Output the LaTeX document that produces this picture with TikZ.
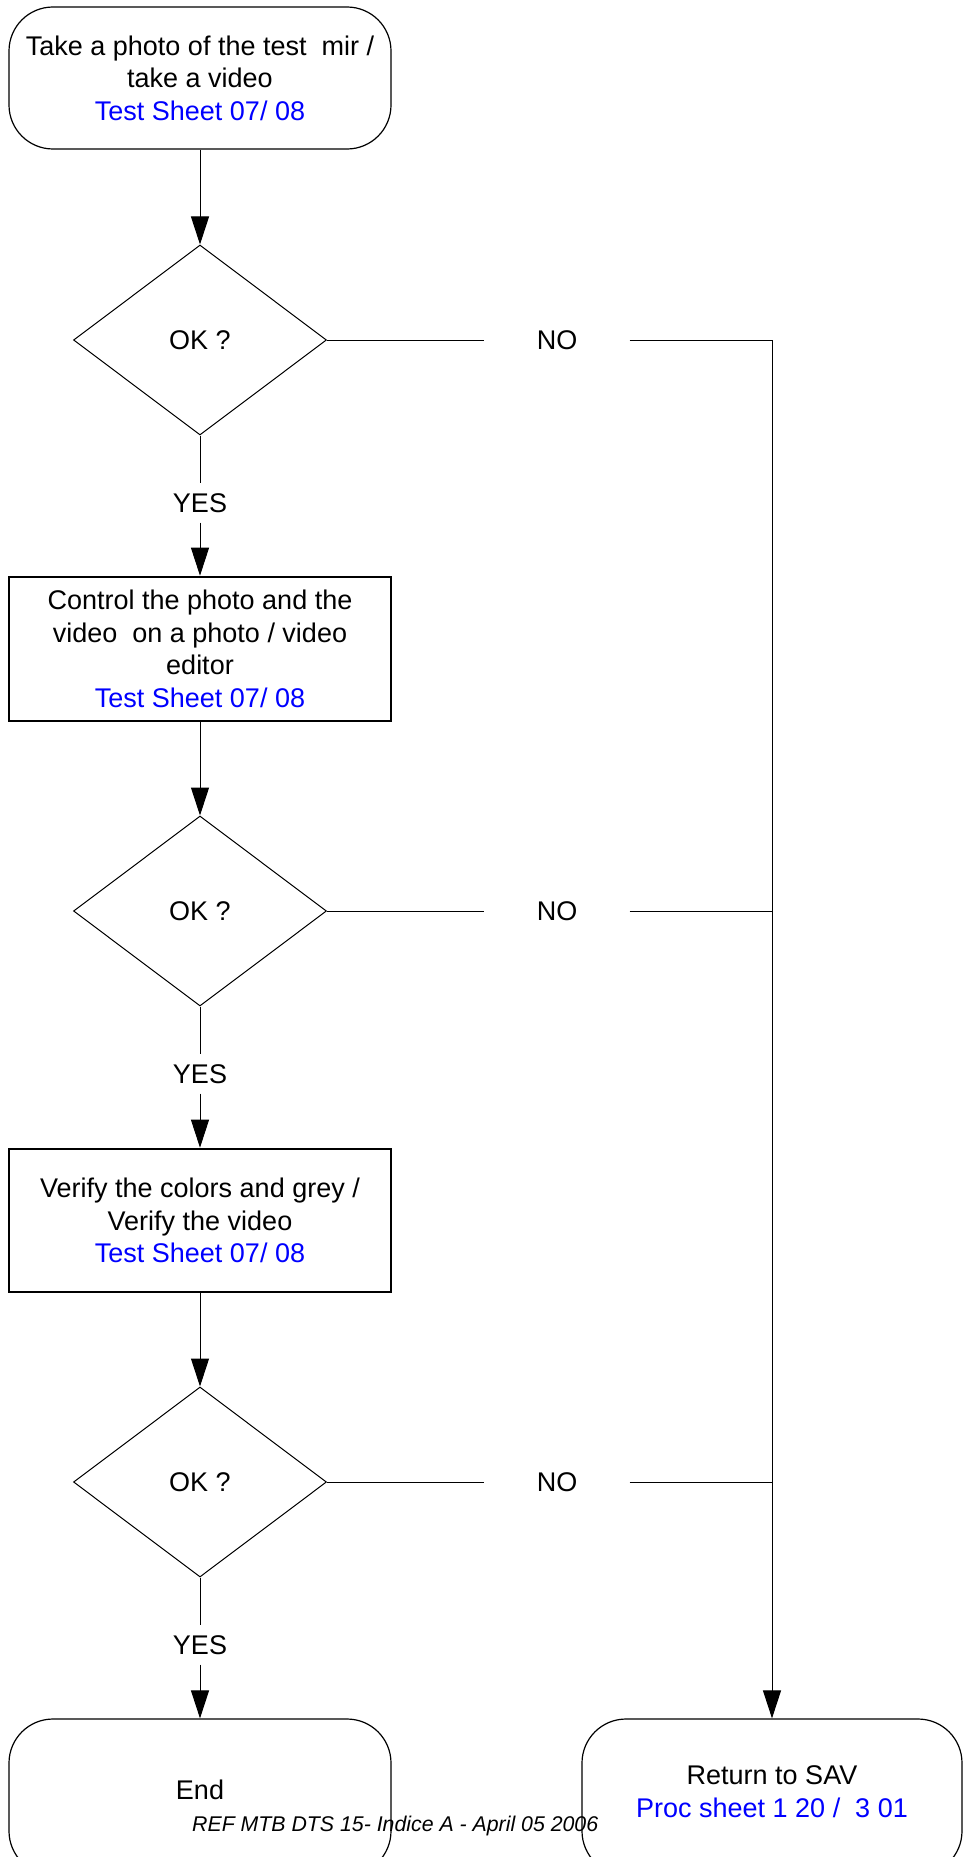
\documentclass[tikz,border=0pt]{standalone}
\usepackage{fontspec}
\setmainfont{Liberation Sans}
\usetikzlibrary{shapes.geometric,arrows.meta}
\definecolor{refblue}{RGB}{0,0,255}
\begin{document}
\begin{tikzpicture}[x=1pt,y=-1pt,
  txt/.style={font=\fontsize{27}{32.5}\selectfont, align=center},
  terminal/.style={draw, line width=1.2pt, rounded corners=44pt, minimum width=382pt, inner sep=0pt, txt},
  process/.style={draw, line width=2.6pt, minimum width=382pt, minimum height=143pt, inner sep=0pt, txt},
  decision/.style={draw, line width=1pt, diamond, minimum width=253pt, minimum height=190pt, inner sep=0pt, txt},
  answer/.style={txt, inner sep=0pt, minimum height=39pt},
  noanswer/.style={txt, inner sep=0pt, minimum width=145pt},
  link/.style={line width=1pt},
  arrowlink/.style={line width=1pt, -{Triangle[length=28pt,width=18pt]}},
  footnote/.style={font=\fontsize{21.3}{25}\selectfont\itshape, inner sep=0pt}]

\useasboundingbox (0,0) rectangle (963,1857);
\clip (0,0) rectangle (963,1857);

% main column
\node[terminal, minimum height=142pt] (start) at (200,78)
  {Take a photo of the test~ mir /\\take a video\\\textcolor{refblue}{Test Sheet 07/ 08}};
\node[decision] (q1) at (200,340) {OK ?};
\node[answer] (y1) at (200,503) {YES};
\node[process, minimum height=144pt] (ctrl) at (200,649)
  {Control the photo and the\\video~ on a photo / video\\editor\\\textcolor{refblue}{Test Sheet 07/ 08}};
\node[decision] (q2) at (200,911) {OK ?};
\node[answer] (y2) at (200,1074) {YES};
\node[process] (verif) at (200,1220.5)
  {Verify the colors and grey /\\Verify the video\\\textcolor{refblue}{Test Sheet 07/ 08}};
\node[decision] (q3) at (200,1482) {OK ?};
\node[answer] (y3) at (200,1645) {YES};
\node[terminal, minimum height=156pt, label={[txt, yshift=7pt]center:{End}}] (finish) at (200,1797) {};

% failure branch
\node[noanswer] (n1) at (557,340) {NO};
\node[noanswer] (n2) at (557,911) {NO};
\node[noanswer] (n3) at (557,1482) {NO};
\coordinate (j1) at (772,340);
\coordinate (j2) at (772,911);
\coordinate (j3) at (772,1482);
\node[terminal, minimum width=380pt, minimum height=156pt,
  label={[txt, yshift=5.5pt]center:{Return to SAV\\\textcolor{refblue}{Proc sheet 1 20 /~ 3 01}}}] (sav) at (772,1797) {};

% connectors
\draw[arrowlink] (start) -- (q1);
\draw[link] (q1) -- (y1);
\draw[arrowlink] (y1) -- (ctrl);
\draw[arrowlink] (ctrl) -- (q2);
\draw[link] (q2) -- (y2);
\draw[arrowlink] (y2) -- (verif);
\draw[arrowlink] (verif) -- (q3);
\draw[link] (q3) -- (y3);
\draw[arrowlink] (y3) -- (finish);

\draw[link] (q1) -- (n1);
\draw[link] (q2) -- (n2);
\draw[link] (q3) -- (n3);
\draw[arrowlink] (n1) -- (j1) -- (sav);
\draw[link] (n2) -- (j2);
\draw[link] (n3) -- (j3);

% document reference
\node[footnote, anchor=base west] (ref) at (192,1831) {REF MTB DTS 15- Indice A - April 05 2006};
\end{tikzpicture}
\end{document}
